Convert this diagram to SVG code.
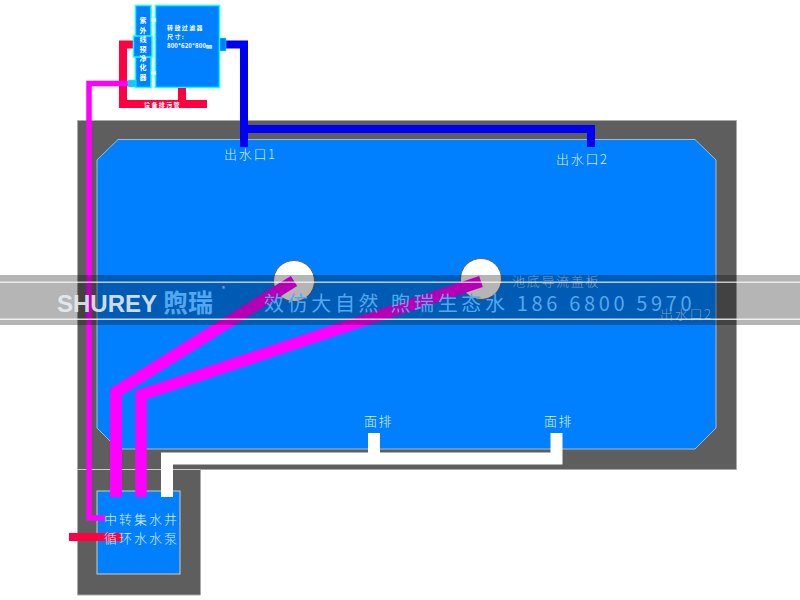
<svg xmlns="http://www.w3.org/2000/svg" width="800" height="600" viewBox="0 0 800 600">
<style>
text{font-family:"Noto Sans CJK SC","Liberation Sans",sans-serif}
.l{fill:#d8ecff;font-size:13px;font-weight:300}
.w{letter-spacing:1.700px}
.s{fill:#fff;font-size:6px;font-weight:700;letter-spacing:1.400px}
.v{fill:#fff;font-size:7px;font-weight:700;text-anchor:middle}
.d{fill:#0080ff;stroke:#1ff;stroke-width:1.500}
.mg{fill:none;stroke:#f0f}
</style>
<rect width="800" height="600" fill="#fff"/>
<g id="pool">
<path d="M77.500 120.500H736.500V469.500H200.500V595H77.500Z" fill="#5e5e5e" stroke="#aaa" stroke-width="1"/>
<path d="M77 469.500H200" stroke="#ccc" stroke-width="1"/>
<path d="M118 139.500H695L716 160V428L695 449H118L97 428V160Z" fill="#0080ff" stroke="#a8b8c8" stroke-width="1"/>
<circle cx="294" cy="281" r="20.500" fill="#fff" stroke="#666"/>
<circle cx="481" cy="279" r="20.500" fill="#fff" stroke="#666"/>
</g>
<g id="sump"><rect x="97" y="491" width="83" height="83" fill="#0080ff" stroke="#d8c8a8"/></g>
<g id="equipment">
<rect id="uv-left" x="135.500" y="5.500" width="15.500" height="82" class="d"/>
<rect id="filter" x="155.500" y="5.500" width="64" height="82" class="d"/>
<rect x="151" y="18" width="5" height="4" fill="#fff" stroke="#1ff" stroke-width=".5"/>
<rect x="151" y="71" width="5" height="4" fill="#fff" stroke="#1ff" stroke-width=".5"/>
</g>
<g id="connectors">
<path d="M133 44.500H123V104M119 104H207M182 88V104" fill="none" stroke="#ff0040" stroke-width="8"/>
<path d="M226 44.500H244V147" fill="none" stroke="#0000f0" stroke-width="8"/>
<path d="M244 129H591V147" fill="none" stroke="#0000f0" stroke-width="8"/>
<path d="M128 83.500H89V518H105" class="mg" stroke-width="5.500"/>
<path d="M116 497V392L294 281" class="mg" stroke-width="12"/>
<path d="M141 497V395L481 281.500" class="mg" stroke-width="11.500"/>
<path d="M167 497V458.500H556.500V433M374 459V433" fill="none" stroke="#fff" stroke-width="12"/>
<rect x="69" y="533" width="53" height="8" fill="#ff0040"/>
<rect x="128" y="80" width="8" height="7" fill="#19c8e8" stroke="#1ff" stroke-width=".5"/>
<rect x="220" y="38" width="6" height="13" fill="#0080ff" stroke="#1ff" stroke-width=".5"/>
</g>
<g id="uv-mid"><rect x="133.500" y="36" width="18.500" height="21" class="d"/></g>
<g id="labels">
<text class="v" x="143" y="23">紫</text><text class="v" x="143" y="33">外</text>
<text class="v" x="143" y="42">线</text><text class="v" x="143" y="52">预</text>
<text class="v" x="143" y="61">净</text><text class="v" x="143" y="70">化</text><text class="v" x="143" y="80">器</text>
<text class="s" x="167" y="29.500">转鼓过滤器</text>
<text class="s" x="167" y="39">尺寸:</text>
<text class="s" x="167" y="48" style="letter-spacing:.1px">800*620*800㎜</text>
<text class="s" x="144" y="107">设备排污管</text>
<text class="l w" x="224" y="159">出水口1</text>
<text class="l w" x="556" y="164">出水口2</text>
<text class="l" x="512" y="286" fill-opacity=".8" style="letter-spacing:1.700px">池底导流盖板</text>
<text class="l w" x="660" y="319" fill-opacity=".8">出水口2</text>
<text class="l" x="364" y="426" style="letter-spacing:1.500px">面排</text>
<text class="l" x="544" y="426" style="letter-spacing:1.500px">面排</text>
<text class="l" x="104" y="524" style="letter-spacing:2px">中转集水井</text>
<text class="l" x="104" y="543" style="letter-spacing:2px">循环水水泵</text>
</g>
<g id="watermark">
<rect y="275" width="800" height="50" fill="#000" fill-opacity=".29"/>
<rect y="281.500" width="800" height="1.500" fill="#fff" fill-opacity=".7"/>
<rect y="318.500" width="800" height="1.500" fill="#fff" fill-opacity=".8"/>
<text x="57" y="312" fill="#e8eef4" fill-opacity=".9" style="font-family:'Liberation Sans',sans-serif;font-size:24px;font-weight:700">SHUREY</text>
<text x="163" y="312" fill="#50a8f0" style="font-size:25px;font-weight:700">煦瑞</text>
<text x="222" y="291" fill="#ccc" style="font-size:6px">®</text>
<text x="264" y="311" fill="#52a8ee" style="font-size:20px;letter-spacing:3.650px">效仿大自然 煦瑞生态水 186 6800 5970</text>
</g>
</svg>
